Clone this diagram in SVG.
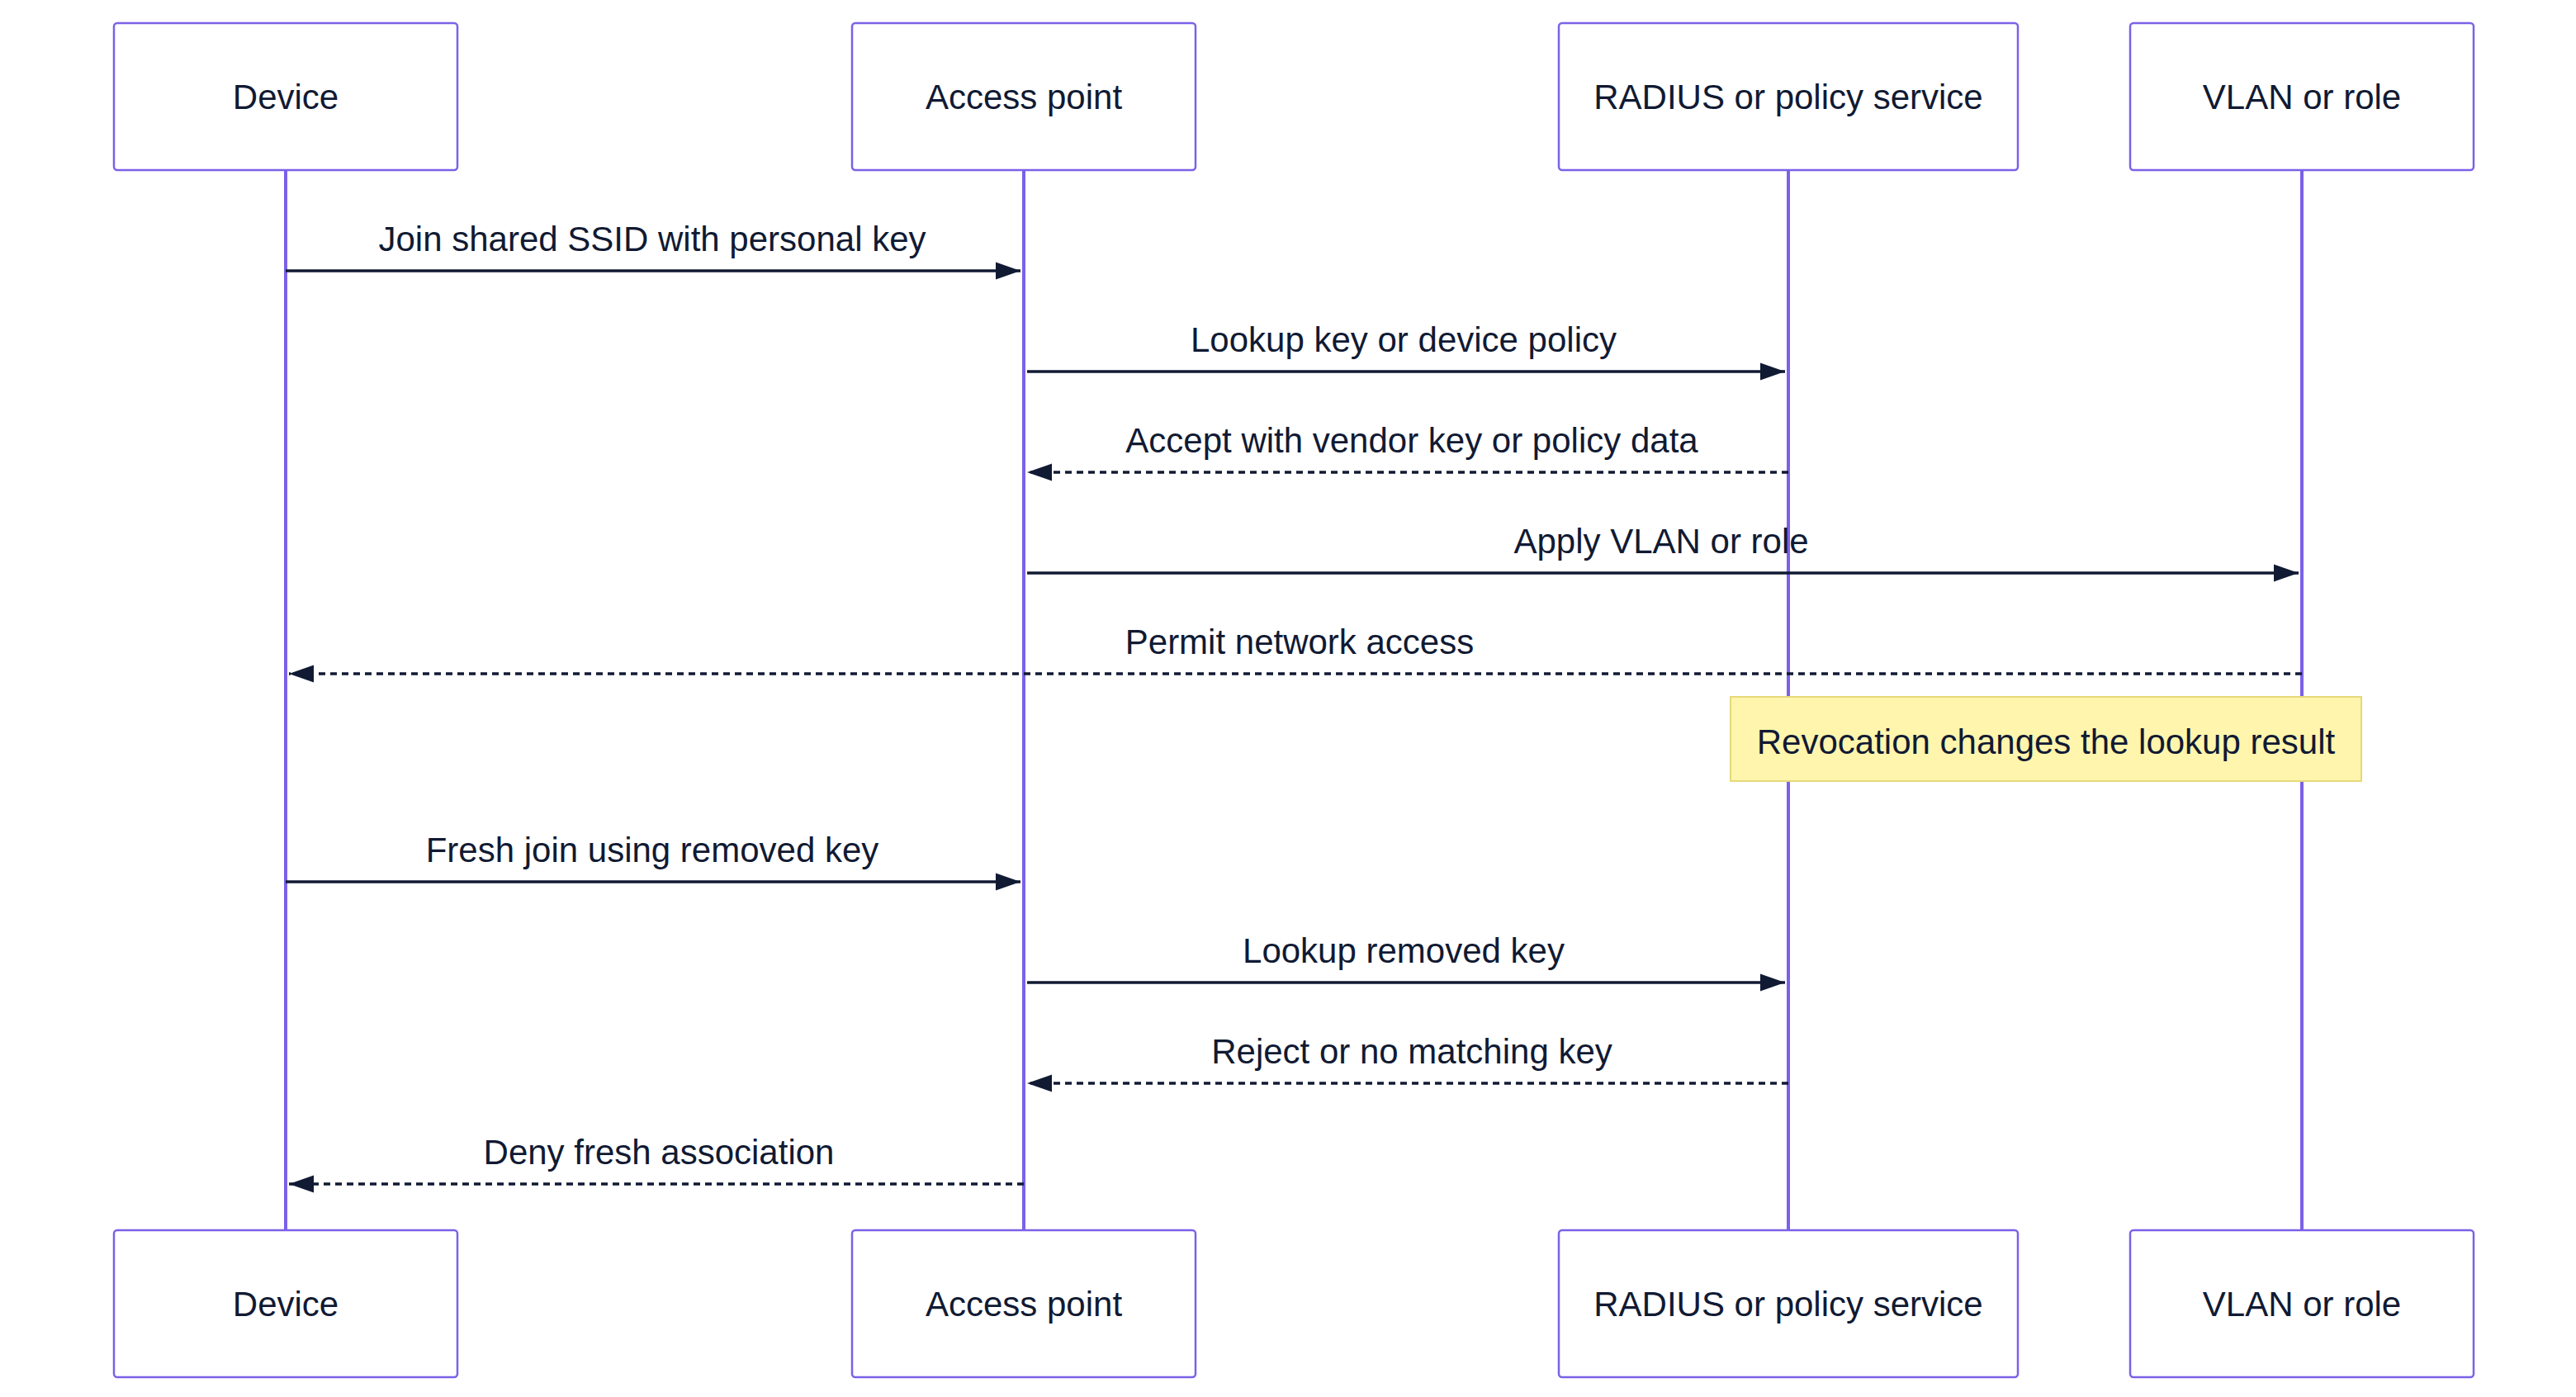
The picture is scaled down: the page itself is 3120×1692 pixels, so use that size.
<svg xmlns="http://www.w3.org/2000/svg" width="3120" height="1692" viewBox="0 0 3120 1692">
<style>
.box{fill:#fff;stroke:#7B61E8;stroke-width:2.5}
.life{stroke:#7B61E8;stroke-width:4}
.t{font-family:"Liberation Sans",Arial,sans-serif;font-size:42px;fill:#111a33;text-anchor:middle}
.m{stroke:#111a33;stroke-width:3.5;fill:none}
.d{stroke-dasharray:8 6}
</style>
<defs><marker id="a" viewBox="0 0 10 10" refX="10" refY="5" markerWidth="10" markerHeight="10" markerUnits="userSpaceOnUse" orient="auto"><path d="M0,0L10,5L0,10z" fill="#111a33"/></marker>
<marker id="ah" viewBox="0 0 10 10" refX="10" refY="5" markerWidth="30" markerHeight="30" markerUnits="userSpaceOnUse" orient="auto"><path d="M0,1.5L10,5L0,8.5z" fill="#111a33"/></marker></defs>
<g id="lifelines">
<line class="life" x1="346" y1="206" x2="346" y2="1490"/>
<line class="life" x1="1240" y1="206" x2="1240" y2="1490"/>
<line class="life" x1="2166" y1="206" x2="2166" y2="1490"/>
<line class="life" x1="2788" y1="206" x2="2788" y2="1490"/>
</g>
<g id="device"><rect class="box" x="138" y="28" width="416" height="178" rx="4"/><text class="t" x="346" y="132">Device</text>
<rect class="box" x="138" y="1490" width="416" height="178" rx="4"/><text class="t" x="346" y="1594">Device</text></g>
<g id="ap"><rect class="box" x="1032" y="28" width="416" height="178" rx="4"/><text class="t" x="1240" y="132">Access point</text>
<rect class="box" x="1032" y="1490" width="416" height="178" rx="4"/><text class="t" x="1240" y="1594">Access point</text></g>
<g id="radius"><rect class="box" x="1888" y="28" width="556" height="178" rx="4"/><text class="t" x="2166" y="132">RADIUS or policy service</text>
<rect class="box" x="1888" y="1490" width="556" height="178" rx="4"/><text class="t" x="2166" y="1594">RADIUS or policy service</text></g>
<g id="vlan"><rect class="box" x="2580" y="28" width="416" height="178" rx="4"/><text class="t" x="2788" y="132">VLAN or role</text>
<rect class="box" x="2580" y="1490" width="416" height="178" rx="4"/><text class="t" x="2788" y="1594">VLAN or role</text></g>
<g id="connectors">
<line class="m" x1="346" y1="328" x2="1236" y2="328" marker-end="url(#ah)"/>
<line class="m" x1="1244" y1="450" x2="2162" y2="450" marker-end="url(#ah)"/>
<line class="m d" x1="2166" y1="572" x2="1244" y2="572" marker-end="url(#ah)"/>
<line class="m" x1="1244" y1="694" x2="2784" y2="694" marker-end="url(#ah)"/>
<line class="m d" x1="2788" y1="816" x2="350" y2="816" marker-end="url(#ah)"/>
<line class="m" x1="346" y1="1068" x2="1236" y2="1068" marker-end="url(#ah)"/>
<line class="m" x1="1244" y1="1190" x2="2162" y2="1190" marker-end="url(#ah)"/>
<line class="m d" x1="2166" y1="1312" x2="1244" y2="1312" marker-end="url(#ah)"/>
<line class="m d" x1="1240" y1="1434" x2="350" y2="1434" marker-end="url(#ah)"/>
</g>
<g id="labels">
<text class="t" x="790" y="304">Join shared SSID with personal key</text>
<text class="t" x="1700" y="426">Lookup key or device policy</text>
<text class="t" x="1710" y="548">Accept with vendor key or policy data</text>
<text class="t" x="2012" y="670">Apply VLAN or role</text>
<text class="t" x="1574" y="792">Permit network access</text>
<text class="t" x="790" y="1044">Fresh join using removed key</text>
<text class="t" x="1700" y="1166">Lookup removed key</text>
<text class="t" x="1710" y="1288">Reject or no matching key</text>
<text class="t" x="798" y="1410">Deny fresh association</text>
</g>
<g id="note"><rect x="2096" y="844" width="764" height="102" fill="#FFF5AD" stroke="#E6D97A" stroke-width="2"/>
<text class="t" x="2478" y="913">Revocation changes the lookup result</text></g>
</svg>
